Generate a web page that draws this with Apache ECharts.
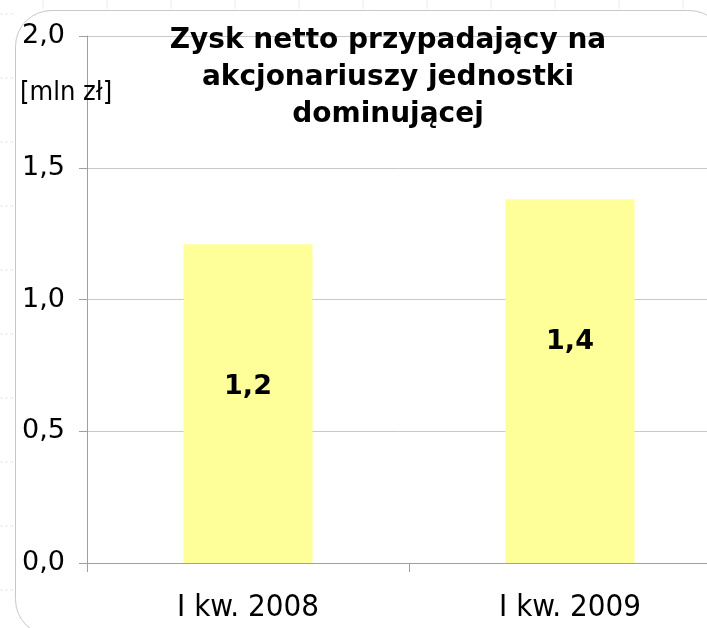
<!DOCTYPE html>
<html>
<head>
<meta charset="utf-8">
<script src="https://cdn.jsdelivr.net/npm/echarts@6/dist/echarts.min.js"></script>
<style>
  html, body { margin: 0; padding: 0; background: #fff; }
  #myChart { width: 707px; height: 628px; }
</style>
</head>
<body>
<div id="myChart"></div>
<script>
const categories = ['I kw. 2008', 'I kw. 2009']
const values = [1.21, 1.38]
const yTicks = [0, 0.5, 1.0, 1.5, 2.0]
const titleText = 'Zysk netto przypadający na\nakcjonariuszy jednostki\ndominującej'
const unitText = '[mln zł]'

const narrow = '"DejaVu Sans Condensed", "Liberation Sans Narrow", "DejaVu Sans", sans-serif'
const wide = '"DejaVu Sans", Verdana, sans-serif'

function plComma(v, digits) {
  return v.toFixed(digits).replace('.', ',')
}

// faint spreadsheet cell marks outside the rounded chart frame
const cellMarks = []
for (let x = 43; x < 707; x += 64) {
  cellMarks.push({ type: 'line', shape: { x1: x, y1: 0, x2: x, y2: 9 }, style: { stroke: '#ececec', lineWidth: 1 }, silent: true })
}
for (let y = 14; y < 628; y += 64) {
  cellMarks.push({ type: 'line', shape: { x1: 0, y1: y, x2: 14, y2: y }, style: { stroke: '#e6e6e6', lineWidth: 1, lineDash: [3, 2] }, silent: true })
}

const myChart = echarts.init(document.getElementById('myChart'))
myChart.setOption({
  backgroundColor: '#fff',
  animation: false,
  // the plot runs past the right edge of the picture
  grid: { left: 87, top: 36, width: 644, bottom: 65, outerBoundsMode: 'none', containLabel: false },
  graphic: cellMarks.concat([
    {
      type: 'rect',
      shape: { x: 15.5, y: 10.5, width: 710, height: 625, r: 36 },
      style: { fill: '#fff', stroke: '#c8c8c8', lineWidth: 1 },
      silent: true,
      z: -1
    },
    {
      type: 'text',
      style: {
        text: titleText,
        x: 388,
        y: 22,
        align: 'center',
        verticalAlign: 'top',
        font: 'bold 28px ' + wide,
        lineHeight: 37,
        fill: '#000'
      },
      z: 10
    },
    {
      type: 'text',
      style: {
        text: unitText,
        x: 20,
        y: 93,
        align: 'left',
        verticalAlign: 'middle',
        font: '27px ' + narrow,
        fill: '#000'
      },
      z: 10
    }
  ]),
  xAxis: {
    type: 'category',
    data: categories,
    boundaryGap: true,
    axisLine: { show: true, lineStyle: { color: '#a0a0a0', width: 1 } },
    axisTick: { show: true, length: 9, alignWithLabel: false, lineStyle: { color: '#a0a0a0' } },
    axisLabel: {
      margin: 29,
      color: '#000',
      fontSize: 31,
      fontFamily: narrow
    },
    splitLine: { show: false }
  },
  yAxis: {
    type: 'value',
    min: yTicks[0],
    max: yTicks[yTicks.length - 1],
    interval: yTicks[1] - yTicks[0],
    axisLine: { show: true, lineStyle: { color: '#a0a0a0', width: 1 } },
    axisTick: { show: true, length: 8, lineStyle: { color: '#a0a0a0' } },
    axisLabel: {
      margin: 22,
      color: '#000',
      fontSize: 27,
      fontFamily: wide,
      formatter: function (v) { return plComma(v, 1) }
    },
    splitLine: { show: true, lineStyle: { color: '#c8c8c8', width: 1 } }
  },
  series: [
    {
      type: 'bar',
      data: values,
      barWidth: 129,
      itemStyle: { color: '#ffff99' },
      label: {
        show: true,
        position: ['50%', 143],
        align: 'center',
        verticalAlign: 'middle',
        color: '#000',
        fontSize: 27,
        fontWeight: 'bold',
        fontFamily: wide,
        formatter: function (p) { return plComma(p.value, 1) }
      }
    }
  ]
})
</script>
</body>
</html>
